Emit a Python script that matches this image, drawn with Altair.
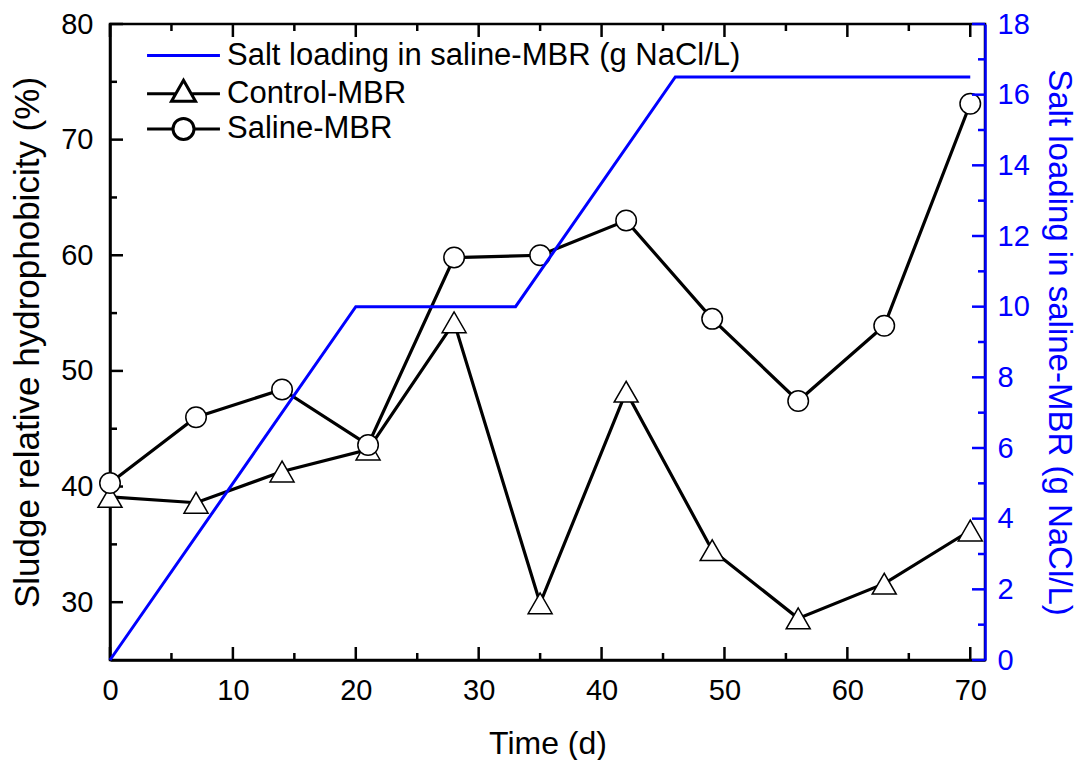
import altair as alt
import pandas as pd

# ---------------- data ----------------
days = [0, 7, 14, 21, 28, 35, 42, 49, 56, 63, 70]
control_mbr = [39.1, 38.6, 41.3, 43.2, 54.2, 29.9, 48.2, 34.5, 28.6, 31.6, 36.2]
saline_mbr = [40.3, 46.0, 48.4, 43.6, 59.8, 60.0, 63.0, 54.5, 47.4, 53.9, 73.1]

salt_days = [0, 20, 33, 46, 70]
salt_loading = [0, 10, 10, 16.5, 16.5]

series_names = ["Salt loading in saline-MBR (g NaCl/L)", "Control-MBR", "Saline-MBR"]

x_major = [0, 10, 20, 30, 40, 50, 60, 70]
x_minor = [5, 15, 25, 35, 45, 55, 65]
left_major = [30, 40, 50, 60, 70, 80]
left_minor = [35, 45, 55, 65, 75]
right_major = [0, 2, 4, 6, 8, 10, 12, 14, 16, 18]
right_minor = [1, 3, 5, 7, 9, 11, 13, 15, 17]

# ---------------- layout / style ----------------
W, H = 875, 636
BLUE = "#0000ff"
FONT = "Liberation Sans"
LW = 2.5
MAJ, MIN = 13, 7

control_df = pd.DataFrame({"day": days, "value": control_mbr})
saline_df = pd.DataFrame({"day": days, "value": saline_mbr})
salt_df = pd.DataFrame({"day": salt_days, "salt": salt_loading})

x_scale = alt.Scale(domain=[0, 71.2], nice=False, zero=False)
yl_scale = alt.Scale(domain=[25, 80], nice=False, zero=False)
yr_scale = alt.Scale(domain=[0, 18], nice=False, zero=False)

x_axis = alt.Axis(
    orient="bottom", values=x_major, title="Time (d)", grid=False,
    ticks=False, tickSize=0, labelPadding=16, labelFontSize=29,
    labelFlush=False, labelColor="black", domainColor="black", domainWidth=LW,
    titleFontSize=32, titleFontWeight="normal", titleColor="black",
    titleX=W / 2, titleY=83, titleBaseline="middle", titleAlign="center",
)
yl_axis = alt.Axis(
    orient="left", values=left_major, title="Sludge relative hydrophobicity (%)",
    grid=False, ticks=False, tickSize=0, labelPadding=17, labelFontSize=29,
    labelColor="black", domainColor="black", domainWidth=LW,
    titleFontSize=35, titleFontWeight="normal", titleColor="black",
    titleX=-83, titleY=H / 2, titleAngle=270, titleBaseline="middle",
    titleAlign="center",
)
yr_axis = alt.Axis(
    orient="right", values=right_major, title="Salt loading in saline-MBR (g NaCl/L)",
    grid=False, ticks=False, tickSize=0, labelPadding=12, labelFontSize=29,
    labelColor=BLUE, domainColor=BLUE, domainWidth=LW,
    titleFontSize=33, titleFontWeight="normal", titleColor=BLUE,
    titleX=73, titleY=H / 2, titleAngle=90, titleBaseline="middle",
    titleAlign="center",
)


def vticks(values, length, top=False):
    df = pd.DataFrame({"v": values})
    y0 = 0 if top else H
    y1 = length if top else H - length
    return alt.Chart(df).mark_rule(color="black", strokeWidth=LW).encode(
        x=alt.X("v:Q", scale=x_scale, axis=x_axis),
        y=alt.value(y0), y2=alt.value(y1),
    )


def hticks(values, length, scale, axis, color, right=False):
    df = pd.DataFrame({"v": values})
    x0 = W if right else 0
    x1 = W - length if right else length
    return alt.Chart(df).mark_rule(color=color, strokeWidth=LW).encode(
        y=alt.Y("v:Q", scale=scale, axis=axis),
        x=alt.value(x0), x2=alt.value(x1),
    )


control_line = alt.Chart(control_df).mark_line(color="black", strokeWidth=3.2).encode(
    x=alt.X("day:Q", scale=x_scale, axis=x_axis),
    y=alt.Y("value:Q", scale=yl_scale, axis=yl_axis),
)
control_pts = alt.Chart(control_df).mark_point(
    shape="triangle-up", size=576, filled=True, fill="white",
    stroke="black", strokeWidth=1.5, opacity=1,
).encode(
    x=alt.X("day:Q", scale=x_scale, axis=x_axis),
    y=alt.Y("value:Q", scale=yl_scale, axis=yl_axis),
)
saline_line = alt.Chart(saline_df).mark_line(color="black", strokeWidth=3.2).encode(
    x=alt.X("day:Q", scale=x_scale, axis=x_axis),
    y=alt.Y("value:Q", scale=yl_scale, axis=yl_axis),
)
saline_pts = alt.Chart(saline_df).mark_point(
    shape="circle", size=420, filled=True, fill="white",
    stroke="black", strokeWidth=1.5, opacity=1,
).encode(
    x=alt.X("day:Q", scale=x_scale, axis=x_axis),
    y=alt.Y("value:Q", scale=yl_scale, axis=yl_axis),
)

left_group = alt.layer(
    vticks(x_major, MAJ), vticks(x_minor, MIN),
    vticks(x_major, MAJ, top=True), vticks(x_minor, MIN, top=True),
    hticks(left_major, MAJ, yl_scale, yl_axis, "black"),
    hticks(left_minor, MIN, yl_scale, yl_axis, "black"),
    control_line, control_pts, saline_line, saline_pts,
)

salt_line = alt.Chart(salt_df).mark_line(color=BLUE, strokeWidth=3).encode(
    x=alt.X("day:Q", scale=x_scale, axis=x_axis),
    y=alt.Y("salt:Q", scale=yr_scale, axis=yr_axis),
)
right_group = alt.layer(
    hticks(right_major, MAJ, yr_scale, yr_axis, BLUE, right=True),
    hticks(right_minor, MIN, yr_scale, yr_axis, BLUE, right=True),
    salt_line,
)

# legend (symbols drawn as line + marker paths)
legend_paths = [
    "M-2.43,0H2.43",
    "M-2.43,0H-0.51M0.51,0H2.43M0,-0.89L0.8,0.5L-0.8,0.5Z",
    "M-2.43,0H-0.7M0.7,0H2.43M0.7,0A0.7,0.7,0,1,1,-0.7,0A0.7,0.7,0,1,1,0.7,0Z",
]
legend_colors = [BLUE, "black", "black"]
legend_cfg = dict(
    title=None, orient="none", legendX=57, legendY=15, padding=0,
    symbolSize=900, symbolStrokeWidth=3, symbolFillColor="white",
    symbolOpacity=1, labelFontSize=31, labelOffset=27, rowPadding=3.2,
    labelLimit=1000, labelColor="black",
)
legend_df = pd.DataFrame({"series": series_names})
legend_layer = alt.Chart(legend_df).mark_point(
    filled=True, fill="white", opacity=0
).encode(
    shape=alt.Shape("series:N", scale=alt.Scale(domain=series_names, range=legend_paths),
                    legend=alt.Legend(**legend_cfg)),
    stroke=alt.Stroke("series:N", scale=alt.Scale(domain=series_names, range=legend_colors),
                      legend=alt.Legend(**legend_cfg)),
)

chart = alt.layer(left_group, right_group, legend_layer).resolve_scale(
    y="independent"
).properties(
    width=W, height=H,
    autosize=alt.AutoSizeParams(type="none"),
    padding={"left": 102, "top": 16, "right": 95, "bottom": 100},
).configure(
    font=FONT,
).configure_view(
    stroke="black", strokeWidth=LW,
)

chart.save("out.html", embed_options={"renderer": "svg", "actions": False})
